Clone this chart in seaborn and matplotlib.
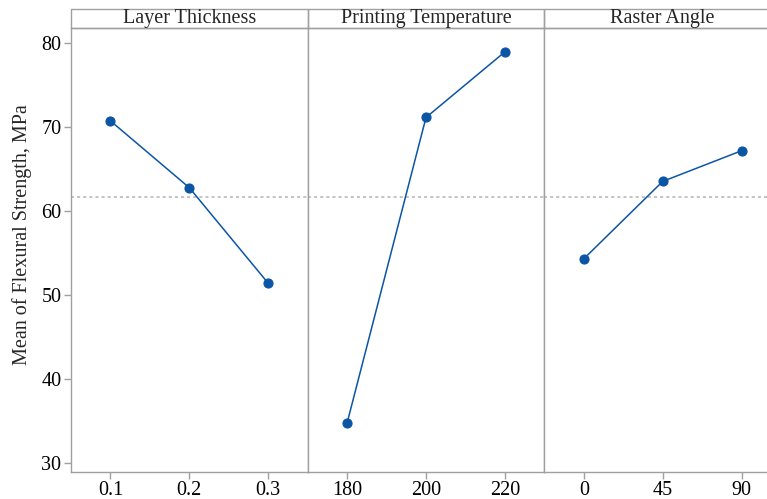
import matplotlib
matplotlib.use('Agg')
import matplotlib.pyplot as plt
import seaborn as sns
from matplotlib.patches import Rectangle

# main effects for means
factors = ['Layer Thickness', 'Printing Temperature', 'Raster Angle']
layer_levels = ['0.1', '0.2', '0.3']
layer_means = [70.7, 62.75, 51.4]
temp_levels = ['180', '200', '220']
temp_means = [34.8, 71.1, 78.9]
angle_levels = ['0', '45', '90']
angle_means = [54.3, 63.5, 67.15]
grand_mean = 61.62

levels = [layer_levels, temp_levels, angle_levels]
means = [layer_means, temp_means, angle_means]

sns.set_style('white')
plt.rcParams['font.family'] = ['Liberation Serif', 'DejaVu Serif']

W, H = 767, 499
fig, axes = plt.subplots(1, 3, figsize=(W / 100, H / 100), dpi=100, sharey=True)
fig.subplots_adjust(left=71 / W, right=781 / W, bottom=1 - 471.7 / H, top=1 - 28.3 / H, wspace=0)

edge = '#a0a0a0'
fs = 14.5
for i, ax in enumerate(axes):
    sns.pointplot(x=levels[i], y=means[i], ax=ax, color='#0b55a5', errorbar=None,
                  markersize=6.5, linewidth=1.1)
    ax.axhline(grand_mean, color='#b4b4b4', linestyle=(0, (2, 2)), linewidth=1.1, zorder=0)
    ax.set_ylim(29.0, 81.7)
    ax.set_xlim(-0.5, 2.5)
    for s in ax.spines.values():
        s.set_color(edge)
        s.set_linewidth(1.0)
    ax.tick_params(axis='x', colors=edge, labelcolor='black', labelsize=fs,
                   length=5, width=1, direction='out', bottom=True, pad=2)
    ax.tick_params(axis='y', colors=edge, labelcolor='black', labelsize=fs,
                   length=5, width=1, direction='out', left=(i == 0), pad=2)
    ax.set_xlabel('')
    # header strip
    hh = 19.3 / 443.4
    ax.add_patch(Rectangle((0, 1), 1, hh, transform=ax.transAxes, clip_on=False,
                           fill=False, edgecolor=edge, linewidth=1.0))
    ax.text(0.5, 1 + hh / 2, factors[i], transform=ax.transAxes, ha='center',
            va='center', fontsize=fs)

axes[0].set_yticks([30, 40, 50, 60, 70, 80])
axes[0].set_ylabel('Mean of Flexural Strength, MPa', fontsize=fs)
axes[0].yaxis.set_label_coords(-0.165, 0.534)

plt.savefig('out.png', dpi=100)
